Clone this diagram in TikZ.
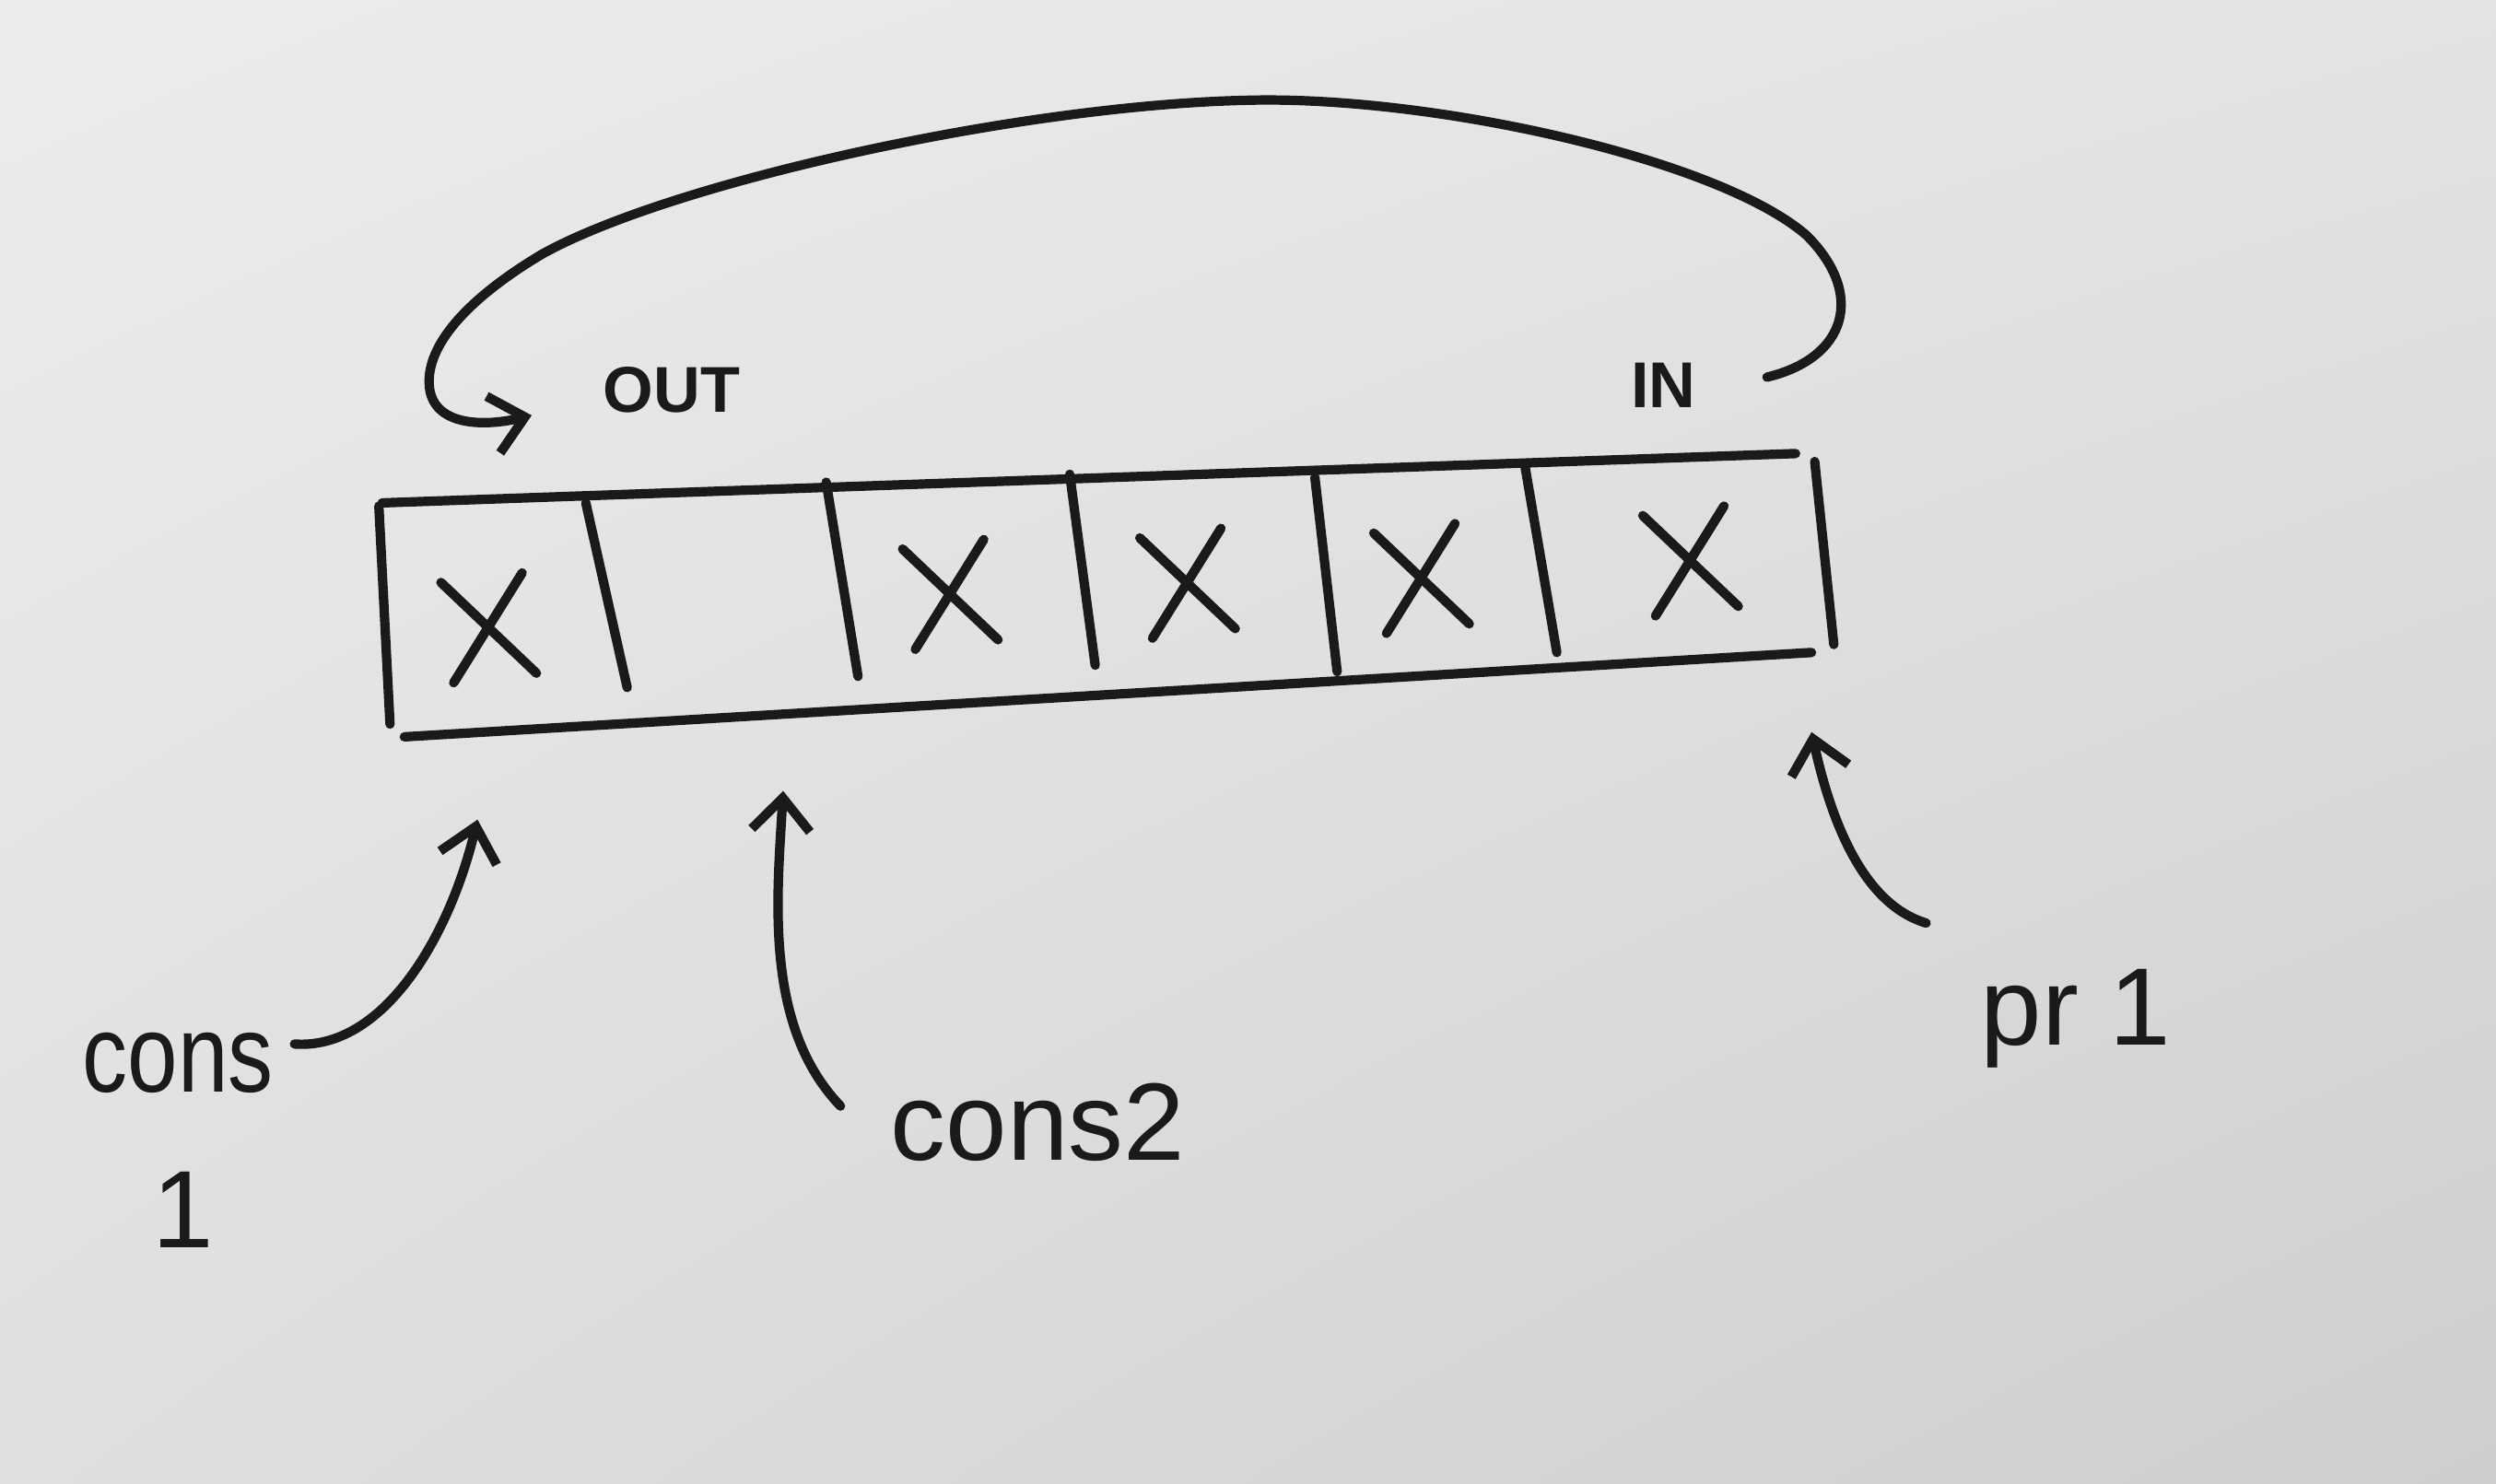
\documentclass[tikz,border=0pt]{standalone}
\usepackage{fontspec}
\setmainfont{Liberation Sans}
\usetikzlibrary{arrows.meta,shadings}
\definecolor{ink}{RGB}{26,26,26}
\definecolor{paperA}{RGB}{237,235,238}
\definecolor{paperB}{RGB}{228,226,229}
\definecolor{paperC}{RGB}{224,222,225}
\definecolor{paperD}{RGB}{208,205,208}
\begin{document}
\begin{tikzpicture}[x=0.017277cm,y=-0.017277cm,
  pen/.style={draw=ink,line width=2.9pt,line cap=round,line join=round},
  tip/.style={-{Straight Barb[length=10pt,width=18pt,line width=2.9pt]}},
  lbl/.style={text=ink,font=\fontsize{34}{40}\selectfont,inner sep=0pt},
  small/.style={text=ink,font=\fontsize{20}{24}\selectfont\bfseries,inner sep=0pt},
  xcross/.pic={\draw[pen] (-30,-27) -- (30,30); \draw[pen] (21,-33) -- (-22,36);}]
\shade[upper left=paperA,upper right=paperB,lower left=paperC,lower right=paperD]
  (0,0) rectangle (1568,932);
\useasboundingbox (0,0) rectangle (1568,932);
% buffer outline
\draw[pen] (240,316) -- (1128,285);
\draw[pen] (254,463) -- (1138,410);
\draw[pen] (238,318) -- (245,455);
\draw[pen] (1140,290) -- (1152,405);
% dividers
\draw[pen] (368,316) -- (394,432);
\draw[pen] (519,303) -- (539,425);
\draw[pen] (672,298) -- (688,418);
\draw[pen] (826,300) -- (840,422);
\draw[pen] (958,293) -- (978,410);
% crosses
\pic at (307,393) {xcross};
\pic at (597,372) {xcross};
\pic at (746,365) {xcross};
\pic at (893,362) {xcross};
\pic at (1062,351) {xcross};
% labels
\node[small] (out) at (422,245) {OUT};
\node[small] (in) at (1045,242) {IN};
\node[lbl,xscale=0.82] (cons) at (112,668) {cons};
\node[lbl] (one) at (115,760) {1};
\node[lbl] (cons2) at (652,705) {cons2};
\node[lbl] (pr1) at (1304,640) {pr 1};
% arc from IN to OUT
\coordinate (arcS) at (1110,237);
\coordinate (arcE) at (334,261);
\draw[pen,tip] (arcS) .. controls (1160,225) and (1172,185) .. (1135,148)
  .. controls (1080,100) and (900,60) .. (784,63)
  .. controls (640,66) and (420,115) .. (340,160)
  .. controls (290,190) and (266,220) .. (270,245)
  .. controls (274,268) and (305,268) .. (arcE);
% pointers
\coordinate (c1s) at (185,656);
\coordinate (c1e) at (300,515);
\draw[pen,tip] (c1s) .. controls (240,660) and (282,590) .. (c1e);
\coordinate (c2s) at (528,695);
\coordinate (c2e) at (492,497);
\draw[pen,tip] (c2s) .. controls (480,645) and (488,565) .. (c2e);
\coordinate (p1s) at (1210,580);
\coordinate (p1e) at (1138,460);
\draw[pen,tip] (p1s) .. controls (1170,568) and (1150,515) .. (p1e);
\end{tikzpicture}
\end{document}
